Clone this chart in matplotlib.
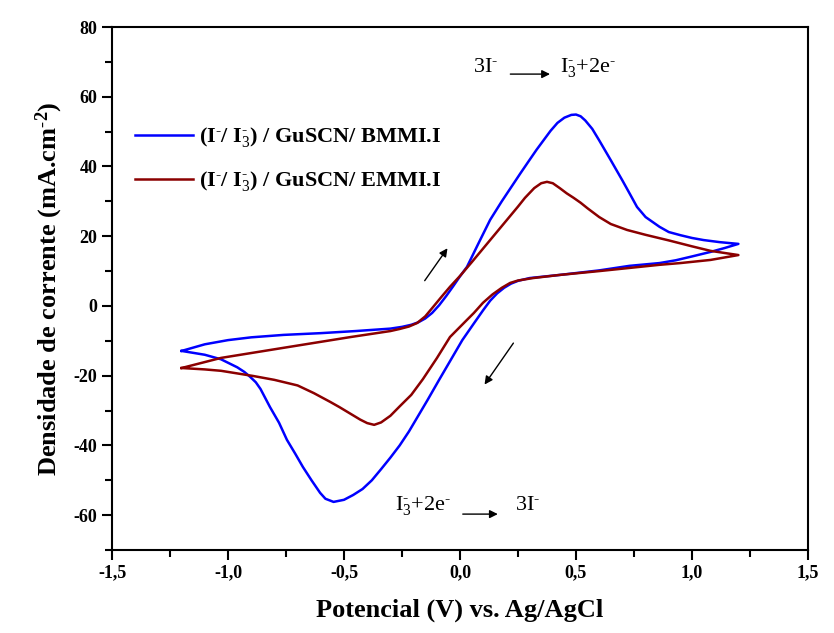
import numpy as np
import matplotlib
matplotlib.use('Agg')
import matplotlib.pyplot as plt
from matplotlib.ticker import MultipleLocator, FuncFormatter

plt.rcParams['font.family'] = 'Liberation Serif'
plt.rcParams['mathtext.fontset'] = 'custom'
plt.rcParams['mathtext.rm'] = 'Liberation Serif'
plt.rcParams['mathtext.it'] = 'Liberation Serif:italic'
plt.rcParams['mathtext.bf'] = 'Liberation Serif:bold'

# BMMI.I - anodic scan (left -> right), then cathodic scan (right -> left)
bmmi_up_x = [-1.20, -1.10, -1.00, -0.90, -0.76, -0.60, -0.45, -0.30, -0.25, -0.21,
             -0.18, -0.15, -0.12, -0.09, -0.06, -0.03, 0.00, 0.03, 0.08, 0.13,
             0.18, 0.22, 0.26, 0.30, 0.33, 0.36, 0.39, 0.42, 0.45, 0.48,
             0.50, 0.52, 0.54, 0.57, 0.60, 0.65, 0.70, 0.735, 0.763, 0.80,
             0.86, 0.90, 0.95, 1.00, 1.05, 1.12, 1.20]
bmmi_up_y = [-12.9, -11.0, -9.8, -9.0, -8.3, -7.8, -7.2, -6.5, -6.0, -5.4,
             -4.7, -3.6, -2.0, 0.2, 2.8, 5.6, 8.5, 11.2, 18.0, 24.7,
             30.0, 34.0, 38.0, 41.9, 44.8, 47.5, 50.2, 52.5, 54.0, 54.8,
             54.9, 54.4, 53.2, 50.8, 47.5, 41.8, 36.0, 31.8, 28.4, 25.5,
             22.7, 21.2, 20.3, 19.5, 18.9, 18.3, 17.8]
bmmi_down_x = [1.20, 1.14, 1.08, 1.00, 0.93, 0.86, 0.73, 0.60, 0.43, 0.30,
               0.25, 0.22, 0.19, 0.16, 0.13, 0.10, 0.06, 0.01, -0.04, -0.09,
               -0.14, -0.18, -0.22, -0.26, -0.30, -0.34, -0.38, -0.42, -0.46, -0.50,
               -0.545, -0.58, -0.603, -0.64, -0.677, -0.71, -0.746, -0.78, -0.819, -0.86,
               -0.88, -0.905, -0.93, -0.96, -1.03, -1.10, -1.20]
bmmi_down_y = [17.8, 16.6, 15.5, 14.2, 13.1, 12.3, 11.5, 10.2, 8.9, 8.0,
               7.2, 6.4, 5.2, 3.6, 1.5, -1.2, -5.0, -9.8, -15.5, -21.2,
               -27.0, -31.5, -36.0, -40.0, -43.5, -46.8, -50.0, -52.5, -54.2, -55.6,
               -56.2, -55.3, -53.6, -50.0, -46.2, -42.4, -38.4, -33.5, -29.0, -23.8,
               -21.9, -20.3, -18.9, -17.6, -15.3, -14.0, -12.9]

# EMMI.I
emmi_up_x = [-1.20, -1.03, -0.76, -0.47, -0.30, -0.26, -0.22, -0.185, -0.15, -0.116,
             -0.08, -0.043, 0.00, 0.05, 0.10, 0.15, 0.20, 0.25, 0.28, 0.32,
             0.35, 0.375, 0.40, 0.43, 0.46, 0.49, 0.52, 0.55, 0.60, 0.65,
             0.72, 0.80, 0.90, 1.00, 1.08, 1.20]
emmi_up_y = [-17.8, -14.9, -12.0, -8.9, -7.2, -6.6, -5.9, -4.9, -3.0, -0.3,
             2.6, 5.5, 8.6, 12.5, 16.5, 20.5, 24.5, 28.5, 31.0, 33.8,
             35.2, 35.6, 35.2, 33.8, 32.3, 31.0, 29.6, 28.0, 25.5, 23.5,
             21.8, 20.4, 18.8, 17.1, 15.8, 14.6]
emmi_down_x = [1.20, 1.08, 0.95, 0.86, 0.73, 0.60, 0.43, 0.315, 0.25, 0.216,
               0.18, 0.14, 0.099, 0.06, 0.03, -0.043, -0.10, -0.16, -0.21, -0.26,
               -0.30, -0.34, -0.37, -0.40, -0.43, -0.47, -0.52, -0.56, -0.63, -0.70,
               -0.80, -0.89, -1.03, -1.10, -1.20]
emmi_down_y = [14.6, 13.2, 12.3, 11.8, 10.9, 10.0, 8.9, 8.0, 7.3, 6.6,
               5.2, 3.3, 0.9, -2.0, -4.0, -8.9, -15.0, -21.0, -25.5, -28.8,
               -31.5, -33.4, -34.1, -33.6, -32.6, -31.0, -29.0, -27.5, -25.0, -22.8,
               -21.2, -20.1, -18.6, -18.2, -17.8]

label_bmmi = r'(I$^{\text{-}}$/ I$^{\text{-}}_{3}$) / GuSCN/ BMMI.I'
label_emmi = r'(I$^{\text{-}}$/ I$^{\text{-}}_{3}$) / GuSCN/ EMMI.I'

fig = plt.figure(figsize=(8.34, 6.33), dpi=100)
ax = fig.add_axes([0.1343, 0.1311, 0.8345, 0.8262])

ax.plot(bmmi_up_x + bmmi_down_x, bmmi_up_y + bmmi_down_y, color='#0000ff', lw=1.8,
        solid_joinstyle='round', label=label_bmmi)
ax.plot(emmi_up_x + emmi_down_x, emmi_up_y + emmi_down_y, color='#8b0000', lw=1.8,
        solid_joinstyle='round', label=label_emmi)

ax.set_xlim(-1.5, 1.5)
ax.set_ylim(-70, 80)
ax.xaxis.set_major_locator(MultipleLocator(0.5))
ax.xaxis.set_minor_locator(MultipleLocator(0.25))
ax.yaxis.set_major_locator(MultipleLocator(20))
ax.yaxis.set_minor_locator(MultipleLocator(10))
ax.xaxis.set_major_formatter(FuncFormatter(lambda v, p: f'{v:.1f}'.replace('.', ',')))
ax.yaxis.set_major_formatter(FuncFormatter(lambda v, p: f'{v:.0f}'))
ax.tick_params(which='both', direction='out', width=1.5, top=False, right=False)
ax.tick_params(which='major', length=7, labelsize=13)
ax.tick_params(which='minor', length=5)
for lab in ax.get_xticklabels() + ax.get_yticklabels():
    lab.set_fontweight('bold')
for s in ax.spines.values():
    s.set_linewidth(1.5)

ax.set_xlabel('Potencial (V) vs. Ag/AgCl', fontsize=19, fontweight='bold', labelpad=12)
ax.set_ylabel(r'Densidade de corrente (mA.cm$^{\text{-}\mathbf{2}}$)', fontsize=19,
              fontweight='bold', labelpad=6)

leg = ax.legend(loc='upper left', bbox_to_anchor=(0.033, 0.812), frameon=False,
                prop={'size': 16, 'weight': 'bold'}, borderpad=0,
                handlelength=2.6, handletextpad=0.3, labelspacing=0.9, borderaxespad=0)

# reaction annotations
arrow = dict(arrowstyle='-|>', color='black', lw=1.0, mutation_scale=12)
ax.text(0.056, 68.3, r'3I$^{\text{-}}$', fontsize=16, va='center')
ax.annotate('', xy=(0.40, 66.5), xytext=(0.205, 66.5), arrowprops=arrow)
ax.text(0.431, 68.3, r'I$^{\text{-}}_{3}$+2e$^{\text{-}}$', fontsize=16, va='center')

ax.text(-0.28, -57.1, r'I$^{\text{-}}_{3}$+2e$^{\text{-}}$', fontsize=16, va='center')
ax.annotate('', xy=(0.175, -59.7), xytext=(0.0, -59.7), arrowprops=arrow)
ax.text(0.237, -57.1, r'3I$^{\text{-}}$', fontsize=16, va='center')

# scan direction arrows
ax.annotate('', xy=(-0.047, 17.2), xytext=(-0.159, 6.6), arrowprops=arrow)
ax.annotate('', xy=(0.099, -23.2), xytext=(0.237, -10.0), arrowprops=arrow)

fig.savefig('out.png', dpi=100)
